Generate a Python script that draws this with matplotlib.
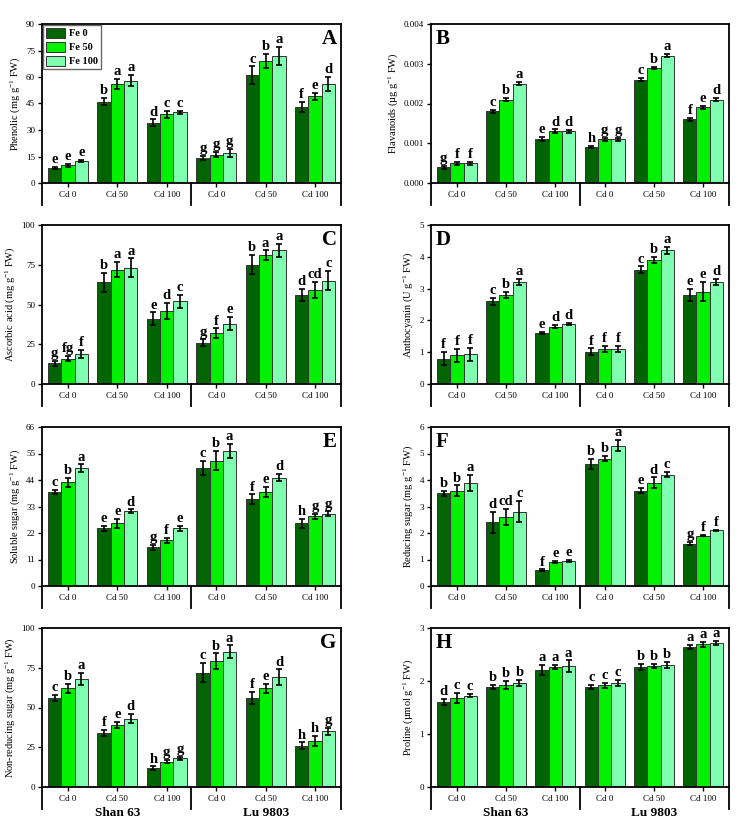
import matplotlib
matplotlib.use('Agg')
import matplotlib.pyplot as plt
import numpy as np
from matplotlib.ticker import FormatStrFormatter

plt.rcParams['font.family'] = 'Liberation Serif'
plt.rcParams['mathtext.fontset'] = 'custom'
plt.rcParams['mathtext.rm'] = 'Liberation Serif'
plt.rcParams['mathtext.default'] = 'regular'

"""
Data (rows = Fe 0, Fe 50, Fe 100 ; columns = Shan 63 Cd0/50/100, Lu 9803 Cd0/50/100)
"""
groups = ['Cd 0', 'Cd 50', 'Cd 100', 'Cd 0', 'Cd 50', 'Cd 100']
cultivars = ['Shan 63', 'Lu 9803']
fe_levels = ['Fe 0', 'Fe 50', 'Fe 100']

phenolic = [[8.5, 46, 34, 14, 61, 43],
            [10, 56, 39, 16, 69, 49],
            [12.5, 58, 40, 17, 72, 56]]
phenolic_err = [[0.5, 2, 2, 1.2, 5, 3],
                [0.8, 3, 2, 1.5, 4, 2],
                [0.8, 3, 1, 2.5, 5, 4]]
phenolic_let = [['e', 'b', 'd', 'g', 'c', 'f'],
                ['e', 'a', 'c', 'g', 'b', 'e'],
                ['e', 'a', 'c', 'g', 'a', 'd']]

flavanoids = [[0.0004, 0.0018, 0.0011, 0.0009, 0.0026, 0.0016],
              [0.0005, 0.0021, 0.0013, 0.0011, 0.0029, 0.0019],
              [0.0005, 0.0025, 0.0013, 0.0011, 0.0032, 0.0021]]
flavanoids_err = [[0.00004, 0.00004, 0.00005, 0.00003, 0.00004, 0.00004],
                  [0.00004, 0.00004, 0.00005, 0.00004, 0.00003, 0.00004],
                  [0.00004, 0.00004, 0.00004, 0.00004, 0.00004, 0.00004]]
flavanoids_let = [['g', 'c', 'e', 'h', 'c', 'f'],
                  ['f', 'b', 'd', 'g', 'b', 'e'],
                  ['f', 'a', 'd', 'g', 'a', 'd']]

ascorbic = [[13, 64, 41, 26, 75, 56],
            [16, 72, 46, 32, 81, 59],
            [19, 73, 52, 38, 84, 65]]
ascorbic_err = [[1.5, 6, 4, 2, 6, 4],
                [1.5, 5, 5, 3, 3, 5],
                [2.5, 6, 4, 4, 4, 6]]
ascorbic_let = [['g', 'b', 'e', 'g', 'b', 'd'],
                ['fg', 'a', 'd', 'f', 'a', 'cd'],
                ['f', 'a', 'c', 'e', 'a', 'c']]

anthocyanin = [[0.8, 2.6, 1.6, 1.02, 3.6, 2.8],
               [0.9, 2.8, 1.8, 1.1, 3.9, 2.9],
               [0.93, 3.2, 1.9, 1.1, 4.2, 3.2]]
anthocyanin_err = [[0.2, 0.1, 0.03, 0.1, 0.1, 0.2],
                   [0.2, 0.1, 0.05, 0.1, 0.1, 0.3],
                   [0.2, 0.1, 0.03, 0.1, 0.1, 0.1]]
anthocyanin_let = [['f', 'c', 'e', 'f', 'c', 'e'],
                   ['f', 'b', 'd', 'f', 'b', 'e'],
                   ['f', 'a', 'd', 'f', 'a', 'd']]

soluble = [[39, 24, 16, 49, 36, 26],
           [43, 26, 19, 52, 39, 29],
           [49, 31, 24, 56, 45, 30]]
soluble_err = [[1, 1, 1, 3, 2, 2],
               [2, 2, 1, 4, 2, 1],
               [1.5, 0.8, 1, 3, 1.5, 1]]
soluble_let = [['c', 'e', 'g', 'c', 'f', 'h'],
               ['b', 'e', 'f', 'b', 'e', 'g'],
               ['a', 'd', 'e', 'a', 'd', 'g']]

reducing = [[3.5, 2.4, 0.6, 4.6, 3.6, 1.6],
            [3.6, 2.6, 0.9, 4.8, 3.9, 1.9],
            [3.9, 2.8, 0.95, 5.3, 4.2, 2.1]]
reducing_err = [[0.1, 0.4, 0.03, 0.2, 0.1, 0.05],
                [0.2, 0.3, 0.05, 0.1, 0.2, 0.03],
                [0.3, 0.4, 0.03, 0.2, 0.1, 0.03]]
reducing_let = [['b', 'd', 'f', 'b', 'e', 'g'],
                ['b', 'cd', 'e', 'b', 'd', 'f'],
                ['a', 'c', 'e', 'a', 'c', 'f']]

nonreducing = [[56, 34, 12, 72, 56, 26],
               [62, 39, 16, 79, 62, 29],
               [68, 43, 18, 85, 69, 35]]
nonreducing_err = [[2, 2, 1, 6, 4, 2],
                   [3, 2, 1, 5, 3, 3],
                   [4, 3, 1, 4, 5, 2]]
nonreducing_let = [['c', 'f', 'h', 'c', 'f', 'h'],
                   ['b', 'e', 'g', 'b', 'e', 'h'],
                   ['a', 'd', 'g', 'a', 'd', 'g']]

proline = [[1.6, 1.88, 2.21, 1.88, 2.26, 2.64],
           [1.68, 1.92, 2.26, 1.92, 2.28, 2.69],
           [1.72, 1.96, 2.28, 1.96, 2.30, 2.71]]
proline_err = [[0.06, 0.04, 0.09, 0.04, 0.06, 0.04],
               [0.09, 0.08, 0.04, 0.05, 0.04, 0.05],
               [0.03, 0.06, 0.11, 0.06, 0.06, 0.04]]
proline_let = [['d', 'b', 'a', 'c', 'b', 'a'],
               ['c', 'b', 'a', 'c', 'b', 'a'],
               ['c', 'b', 'a', 'c', 'b', 'a']]

"""
Panel settings
"""
panels = [
    ('A', phenolic, phenolic_err, phenolic_let, 'Phenolic (mg g$^{-1}$ FW)', 90, 15, '%d', 'right'),
    ('B', flavanoids, flavanoids_err, flavanoids_let, 'Flavanoids (µg g$^{-1}$ FW)', 0.004, 0.001, '%.3f', 'left'),
    ('C', ascorbic, ascorbic_err, ascorbic_let, 'Ascorbic acid (mg g$^{-1}$ FW)', 100, 25, '%d', 'right'),
    ('D', anthocyanin, anthocyanin_err, anthocyanin_let, 'Anthocyanin (U g$^{-1}$ FW)', 5, 1, '%d', 'left'),
    ('E', soluble, soluble_err, soluble_let, 'Soluble sugar (mg g$^{-1}$ FW)', 66, 11, '%d', 'right'),
    ('F', reducing, reducing_err, reducing_let, 'Reducing sugar (mg g$^{-1}$ FW)', 6, 1, '%d', 'left'),
    ('G', nonreducing, nonreducing_err, nonreducing_let, 'Non-reducing sugar (mg g$^{-1}$ FW)', 100, 25, '%d', 'right'),
    ('H', proline, proline_err, proline_let, 'Proline (µmol g$^{-1}$ FW)', 3, 1, '%d', 'left'),
]

clrs = ['#006400', '#00f000', '#80ffb0']
W, H = 756, 831
lefts = [42, 431]
widths = [299, 298]
tops = [24, 225, 427, 628]
axh = 159
bw = 0.27
x = np.arange(len(groups))

fig = plt.figure(figsize=(W / 100, H / 100), dpi=100)

for k, (lab, vals, errs, lets, ylab, ymax, ystep, fmt, side) in enumerate(panels):
    row, col = k // 2, k % 2
    ax = fig.add_axes([lefts[col] / W, 1 - (tops[row] + axh) / H, widths[col] / W, axh / H])
    for jj in range(3):
        pos = x + (jj - 1) * bw
        ax.bar(pos, vals[jj], width=bw, color=clrs[jj], edgecolor='#333333', linewidth=0.7,
               label=fe_levels[jj], zorder=2)
        ax.errorbar(pos, vals[jj], yerr=errs[jj], fmt='none', ecolor='black', elinewidth=1.2,
                    capsize=2.2, capthick=1.2, zorder=3)
        for ii in range(len(groups)):
            ax.text(pos[ii], vals[jj][ii] + errs[jj][ii] + ymax * 0.005, lets[jj][ii],
                    ha='center', va='bottom', fontsize=10.5, fontweight='bold')
    ax.set_xlim(-0.525, 5.525)
    ax.set_ylim(0, ymax)
    ax.set_yticks(np.arange(0, ymax + ystep / 2, ystep))
    ax.yaxis.set_major_formatter(FormatStrFormatter(fmt))
    ax.set_xticks(x)
    ax.set_xticklabels(groups)
    ax.tick_params(axis='both', labelsize=6.5, direction='out', length=3, width=1, pad=2)
    ax.tick_params(axis='x', pad=3)
    ax.set_ylabel(ylab, fontsize=7.5, labelpad=3)
    for s in ax.spines.values():
        s.set_linewidth(1.3)
    # box under the axis that splits the two cultivars
    for xx in [-0.525, 2.5, 5.525]:
        ax.plot([xx, xx], [0, -0.14], transform=ax.get_xaxis_transform(), color='black',
                linewidth=1.3, clip_on=False)
    if side == 'right':
        ax.text(0.985, 0.97, lab, transform=ax.transAxes, ha='right', va='top', fontsize=15, fontweight='bold')
    else:
        ax.text(0.015, 0.97, lab, transform=ax.transAxes, ha='left', va='top', fontsize=15, fontweight='bold')
    if k == 0:
        ax.legend(loc='upper left', bbox_to_anchor=(0.0, 1.0), prop={'weight': 'bold', 'size': 7.5},
                  fancybox=False, edgecolor='#444444', borderpad=0.25, labelspacing=0.3,
                  handlelength=1.9, handleheight=1.2, handletextpad=0.35, borderaxespad=0.1)
    if row == 3:
        for cc, cx in zip(cultivars, [1, 4]):
            ax.text(cx, -0.165, cc, transform=ax.get_xaxis_transform(), ha='center', va='center',
                    fontsize=9.5, fontweight='bold')

fig.savefig('out.png', dpi=100)
